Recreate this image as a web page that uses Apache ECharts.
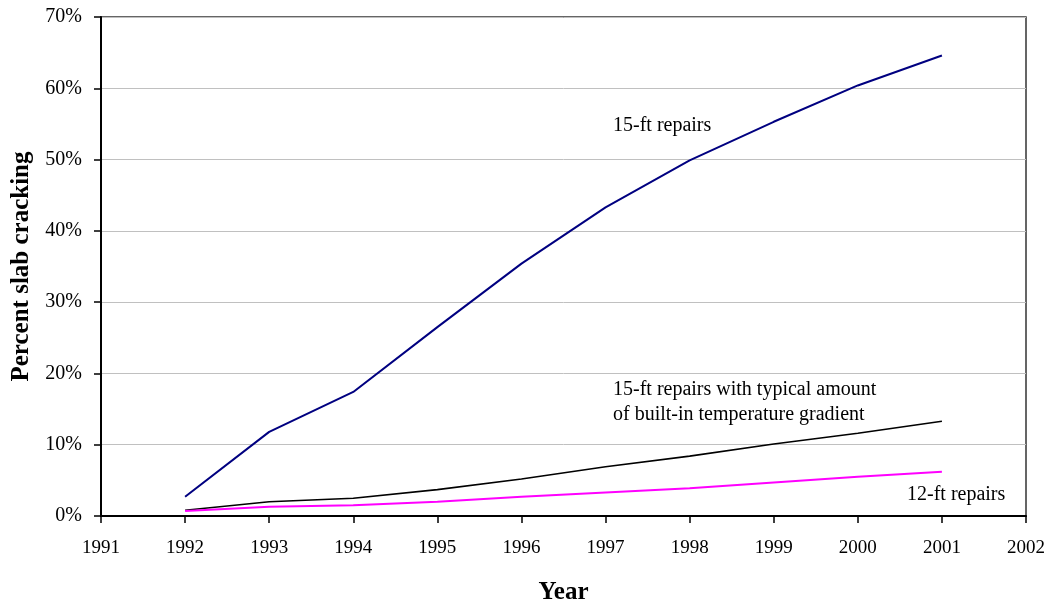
<!DOCTYPE html>
<html>
<head>
<meta charset="utf-8">
<script src="https://cdn.jsdelivr.net/npm/echarts@6/dist/echarts.min.js"></script>
<style>
    html, body { margin: 0; padding: 0; background: #fff; }
    #chart { width: 1052px; height: 603px; }
</style>
</head>
<body>
<div id="chart"></div>
<script>
const years = [1992, 1993, 1994, 1995, 1996, 1997, 1998, 1999, 2000, 2001]
const repairs15 = [2.7, 11.8, 17.4, 26.5, 35.4, 43.3, 49.9, 55.3, 60.4, 64.6]
const repairs15Gradient = [0.8, 2.0, 2.5, 3.7, 5.2, 6.9, 8.4, 10.1, 11.6, 13.3]
const repairs12 = [0.7, 1.3, 1.5, 2.0, 2.7, 3.3, 3.9, 4.7, 5.5, 6.2]

const font = 'Liberation Serif, Times New Roman, serif'

const pairs = (vals) => years.map((y, i) => [y, vals[i]])

const chart = echarts.init(document.getElementById('chart'))

const lineSeries = (name, vals, color, width) => ({
    name,
    type: 'line',
    data: pairs(vals),
    symbol: 'none',
    lineStyle: { color, width },
    animation: false
})

const note = (text, left, top) => ({
    type: 'text',
    left,
    top,
    style: { text, font: '20px ' + font, fill: '#000' }
})

const option = {
    backgroundColor: '#fff',
    grid: {
        left: 101,
        right: 26,
        top: 17,
        bottom: 87,
        outerBoundsMode: 'none',
        containLabel: false,
        show: true,
        borderColor: '#333',
        borderWidth: 1.5
    },
    xAxis: {
        type: 'value',
        min: 1991,
        max: 2002,
        interval: 1,
        name: 'Year',
        nameLocation: 'middle',
        nameGap: 64,
        nameTextStyle: { fontFamily: font, fontSize: 25, fontWeight: 'bold', color: '#000' },
        axisLine: { lineStyle: { color: '#000', width: 2 } },
        axisTick: { show: true, length: 7, lineStyle: { color: '#000', width: 1.5 } },
        axisLabel: { fontFamily: font, fontSize: 19, color: '#000', margin: 23, formatter: (v) => String(v) },
        splitLine: { show: false }
    },
    yAxis: {
        type: 'value',
        min: 0,
        max: 70,
        interval: 10,
        name: 'Percent slab cracking',
        nameLocation: 'middle',
        nameGap: 66,
        nameTextStyle: { fontFamily: font, fontSize: 25, fontWeight: 'bold', color: '#000' },
        axisLine: { show: true, lineStyle: { color: '#000', width: 2 } },
        axisTick: { show: true, length: 7, lineStyle: { color: '#000', width: 1.5 } },
        axisLabel: { fontFamily: font, fontSize: 20, color: '#000', margin: 19, formatter: '{value}%' },
        splitLine: { lineStyle: { color: '#c0c0c0', width: 1 } }
    },
    series: [
        lineSeries('15-ft repairs', repairs15, '#000080', 2),
        lineSeries('15-ft repairs with typical amount of built-in temperature gradient', repairs15Gradient, '#000000', 1.6),
        lineSeries('12-ft repairs', repairs12, '#ff00ff', 2)
    ],
    graphic: [
        note('15-ft repairs', 613, 116),
        note('15-ft repairs with typical amount', 613, 380),
        note('of built-in temperature gradient', 613, 405),
        note('12-ft repairs', 907, 485)
    ]
}

chart.setOption(option)
</script>
</body>
</html>
